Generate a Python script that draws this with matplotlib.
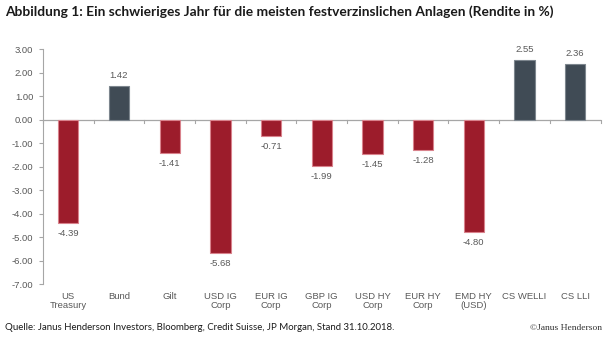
import matplotlib
matplotlib.use("Agg")
import matplotlib.pyplot as plt

categories = ["US\nTreasury", "Bund", "Gilt", "USD IG\nCorp", "EUR IG\nCorp", "GBP IG\nCorp",
              "USD HY\nCorp", "EUR HY\nCorp", "EMD HY\n(USD)", "CS WELLI", "CS LLI"]
returns = [-4.39, 1.42, -1.41, -5.68, -0.71, -1.99, -1.45, -1.28, -4.80, 2.55, 2.36]
yticks = [3, 2, 1, 0, -1, -2, -3, -4, -5, -6, -7]

RED = "#9c1c2b"
RED_EDGE = "#d9828c"
GREY = "#404b55"
GREY_EDGE = "#7d868e"
AXIS = "#a6a6a6"
TEXT = "#595959"

fig = plt.figure(figsize=(6.08, 3.39), dpi=100)
ax = fig.add_axes([0.0707, 0.162, 0.917, 0.693])

x = list(range(len(categories)))
colors = [GREY if v > 0 else RED for v in returns]
edges = [GREY_EDGE if c == GREY else RED_EDGE for c in colors]
ax.bar(x, returns, width=0.4, color=colors, edgecolor=edges, linewidth=0.8, zorder=2)

for xi, v in zip(x, returns):
    if v >= 0:
        ax.text(xi, v + 0.25, f"{v:.2f}", ha="center", va="bottom", fontsize=6.8,
                color=TEXT, family="Liberation Sans")
    else:
        ax.text(xi, v - 0.25, f"{v:.2f}", ha="center", va="top", fontsize=6.8,
                color=TEXT, family="Liberation Sans")

ax.set_xlim(-0.5, len(categories) - 0.5)
ax.set_ylim(-7, 3)
ax.set_yticks(yticks)
ax.set_yticklabels([f"{t:.2f}" for t in yticks], fontsize=6.8, color=TEXT, family="Liberation Sans")
ax.tick_params(axis="y", direction="out", length=3, color=AXIS, pad=4)

# category boundaries as ticks hanging from the zero line
ax.set_xticks([])
for b in range(len(categories) + 1):
    ax.plot([b - 0.5, b - 0.5], [0, -0.13], color=AXIS, linewidth=0.8, zorder=1, clip_on=False)
ax.axhline(0, color=AXIS, linewidth=0.9, zorder=1)

for xi, lab in zip(x, categories):
    ax.text(xi, -7.35, lab, ha="center", va="top", fontsize=6.8, color=TEXT,
            family="Liberation Sans", linespacing=1.0)

for side in ["top", "right", "bottom"]:
    ax.spines[side].set_visible(False)
ax.spines["left"].set_color(AXIS)
ax.spines["left"].set_linewidth(0.8)

fig.text(0.008, 0.965, "Abbildung 1: Ein schwieriges Jahr für die meisten festverzinslichen Anlagen (Rendite in %)",
         ha="left", va="center", fontsize=9.9, fontweight="bold", family="Lato", color="#1a1a1a")
fig.text(0.008, 0.033, "Quelle: Janus Henderson Investors, Bloomberg, Credit Suisse, JP Morgan, Stand 31.10.2018.",
         ha="left", va="center", fontsize=6.9, family="Lato", color="#1a1a1a")
fig.text(0.99, 0.033, "©Janus Henderson", ha="right", va="center", fontsize=6.8,
         family="Liberation Serif", color="#333333")

fig.savefig("out.png", dpi=100, facecolor="white")
